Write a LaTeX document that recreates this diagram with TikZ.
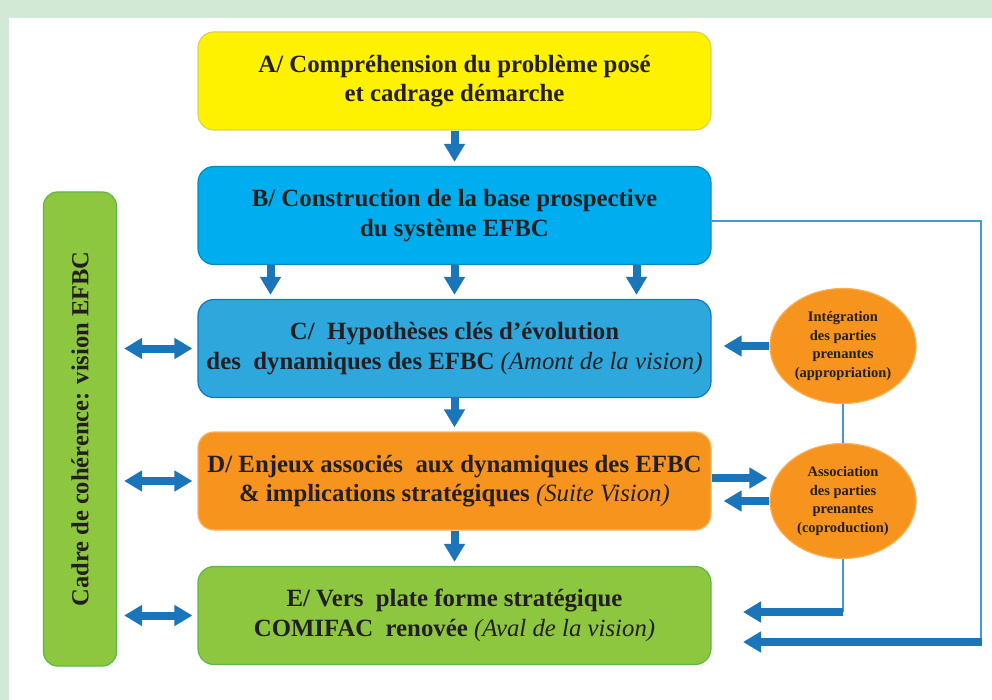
\documentclass[tikz,border=0pt]{standalone}
\usepackage{fontspec}
\setmainfont{Liberation Serif}
\usetikzlibrary{arrows.meta,shapes.geometric}
\definecolor{fond}{HTML}{D2E9D6}
\definecolor{jaune}{HTML}{FFF200}
\definecolor{cyanb}{HTML}{00AEEF}
\definecolor{bleuc}{HTML}{2EA8DC}
\definecolor{orangeb}{HTML}{F7941E}
\definecolor{vertb}{HTML}{8DC63F}
\definecolor{bordv}{HTML}{5DB847}
\definecolor{fleche}{HTML}{1B75BB}
\definecolor{trait}{HTML}{3F9AD6}
\definecolor{encre}{HTML}{231F20}
\tikzset{
  etape/.style={draw, rounded corners=16pt, line width=1.2pt, minimum width=513pt,
    minimum height=98pt, inner xsep=2pt, align=center, text=encre,
    font=\fontsize{24.8}{29.5}\selectfont\bfseries},
  partie/.style={ellipse, fill=orangeb, draw=orangeb!75!white, line width=1.2pt,
    minimum width=146pt, minimum height=115pt, inner sep=0pt, align=center,
    text=encre, font=\fontsize{14.5}{18.5}\selectfont\bfseries},
  fl/.style={draw=fleche, line width=8pt, -{Triangle[width=20pt,length=18pt]}},
  dfl/.style={draw=fleche, line width=8pt,
    {Triangle[width=20pt,length=18pt]}-{Triangle[width=20pt,length=18pt]}},
  fin/.style={draw=trait, line width=2pt},
}
\newcommand{\suite}[1]{{\mdseries\itshape #1}}
\begin{document}
\begin{tikzpicture}[x=1pt,y=-1pt]
  \useasboundingbox (0,0) rectangle (992,700);
  \fill[fond] (0,0) rectangle (992,700);
  \fill[white] (9,18) rectangle (992,700);
  % etapes
  \node[etape, fill=jaune, draw=jaune!80!black!70!white] (A) at (454.5,81)
    {A/ Compréhension du problème posé\\et cadrage démarche};
  \node[etape, fill=cyanb, draw=cyanb!80!black] (B) at (454.5,215.5)
    {B/ Construction de la base prospective\\du système EFBC};
  \node[etape, fill=bleuc, draw=fleche] (C) at (454.5,348.5)
    {C/\ \ Hypothèses clés d’évolution\\des\ \ dynamiques des EFBC \suite{(Amont de la vision)}};
  \node[etape, fill=orangeb, draw=orangeb!70!white] (D) at (454.5,481)
    {D/ Enjeux associés\ \ aux dynamiques des EFBC\\\& implications stratégiques \suite{(Suite Vision)}};
  \node[etape, fill=vertb, draw=bordv] (E) at (454.5,615.5)
    {E/ Vers\ \ plate forme stratégique\\COMIFAC\ \ renovée \suite{(Aval de la vision)}};
  \node[etape, fill=vertb, draw=bordv, rounded corners=14pt, rotate=90,
    minimum width=474pt, minimum height=73pt, font=\fontsize{24.5}{28}\selectfont\bfseries]
    (cadre) at (80,429) {Cadre de cohérence: vision EFBC};
  % parties prenantes
  \node[partie] (P1) at (843,346) {Intégration\\des parties\\prenantes\\(appropriation)};
  \node[partie] (P2) at (843,501) {Association\\des parties\\prenantes\\(coproduction)};
  \coordinate (k0) at (981,221);
  \coordinate (k1) at (843,612);
  \coordinate (f1) at (743,612);
  \coordinate (k2) at (982,642);
  \coordinate (f2) at (743,642);
  % liens
  \draw[fin] (P1.south) -- (P2.north);
  \draw[fin] (P2.south) -- (k1);
  \draw[fin] (B.east |- k0) -- (k0) -- ([xshift=-1pt]k2);
  \begin{scope}[shorten >=4pt]
    \draw[fl] (A) -- (B);
    \foreach \dx in {-184,0,182} {
      \draw[fl] ([xshift=\dx pt]B.south) -- ([xshift=\dx pt]C.north);
    }
    \draw[fl] (C) -- (D);
    \draw[fl] (D) -- (E);
  \end{scope}
  \foreach \n in {C,D,E} {
    \draw[dfl, shorten <=7pt, shorten >=5pt] (cadre.south |- \n.west) -- (\n.west);
  }
  \draw[fl, shorten >=12pt] (P1.west) -- (P1.west -| C.east);
  \draw[fl, shorten >=2pt] (D.east |- 0,478) -- (P2.west |- 0,478);
  \draw[fl, shorten >=12pt] (P2.west) -- (P2.west -| D.east);
  \draw[fl] (k1) -- (f1);
  \draw[fl] (k2) -- (f2);
\end{tikzpicture}
\end{document}
